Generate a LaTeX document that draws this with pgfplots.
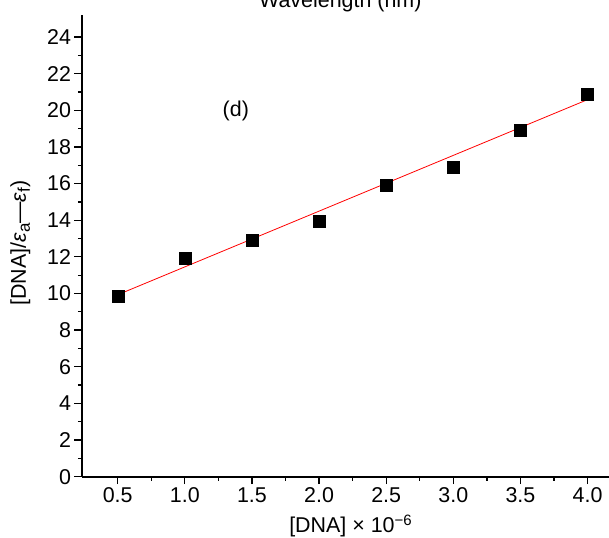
\documentclass[border=0pt]{standalone}
\usepackage{fontspec}
\setmainfont{Liberation Sans}
\usepackage{pgfplots}
\pgfplotsset{compat=1.18}
\newcommand{\fs}{\fontsize{21.5}{25}\selectfont}
\newcommand{\sub}[1]{\raisebox{-0.35ex}{\fontsize{17}{17}\selectfont #1}}
\begin{document}
\begin{tikzpicture}
\begin{axis}[
  name=ax,
  scale only axis,
  width=527bp, height=461.7bp,
  xmin=0.234, xmax=4.16,
  ymin=0, ymax=25.2,
  axis lines=left,
  axis line style={-, line width=2bp},
  tick style={line width=1.3bp, black},
  tick align=outside,
  major tick length=7.5bp,
  minor tick length=4bp,
  xtick={0.5,1.0,1.5,2.0,2.5,3.0,3.5,4.0},
  ytick={0,2,4,6,8,10,12,14,16,18,20,22,24},
  minor x tick num=1,
  minor y tick num=1,
  xticklabel style={/pgf/number format/.cd, fixed, fixed zerofill, precision=1},
  yticklabel style={/pgf/number format/.cd, fixed, precision=0},
  /pgf/number format/assume math mode=true,
  ticklabel style={font=\fs},
  label style={font=\fs},
  xlabel={[DNA] × 10\textsuperscript{−6}},
  ylabel={[DNA]/\textit{ε}\sub{a}—\textit{ε}\sub{f})},
  xlabel style={at={(axis description cs:0.51,-0.107)}, anchor=center},
  ylabel style={at={(axis description cs:-0.117,0.506)}, anchor=center},
  clip=false,
]
\addplot[red, line width=0.8bp] coordinates {(0.5,9.93) (4.0,20.58)};
\addplot[only marks, mark=square*, mark size=6bp, black] coordinates {
  (0.5,9.87) (1.0,11.93) (1.5,12.9) (2.0,13.97) (2.5,15.92) (3.0,16.9) (3.5,18.93) (4.0,20.87)
};
\node[font=\fs] at (axis cs:1.38,19.95) {(d)};
\end{axis}
\node[font=\fs, anchor=base] at ([xshift=258.3bp, yshift=7bp]ax.north west) {Wavelength (nm)};
\pgfresetboundingbox
\path[use as bounding box] ([xshift=-82bp,yshift=-61.3bp]ax.south west) rectangle ([yshift=15bp]ax.north east);
\end{tikzpicture}
\end{document}
